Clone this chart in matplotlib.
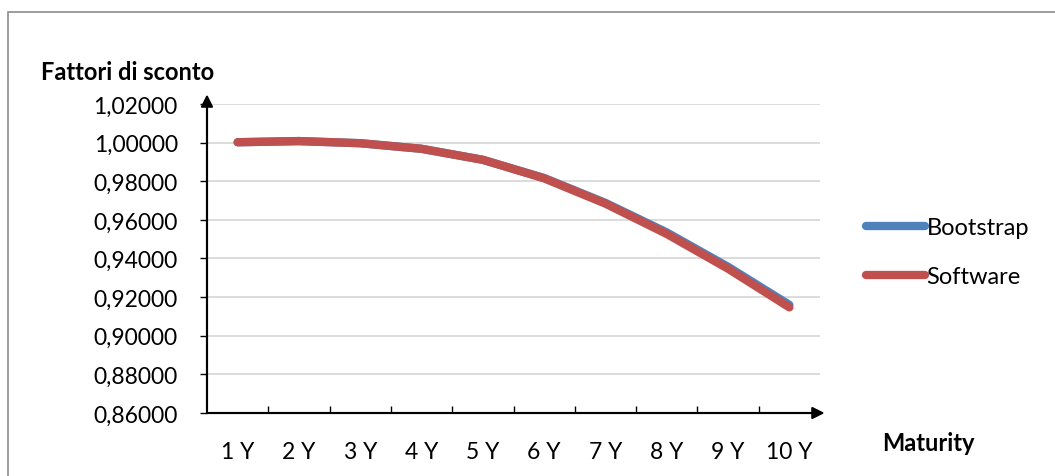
import matplotlib
matplotlib.use("Agg")
import matplotlib.pyplot as plt
from matplotlib.patches import Rectangle
import numpy as np

categories = ["1 Y", "2 Y", "3 Y", "4 Y", "5 Y", "6 Y", "7 Y", "8 Y", "9 Y", "10 Y"]
bootstrap = [1.0002, 1.0008, 0.9997, 0.9968, 0.9911, 0.9817, 0.9688, 0.9535, 0.9357, 0.9160]
software = [1.0002, 1.0008, 0.9997, 0.9968, 0.9911, 0.9815, 0.9684, 0.9527, 0.9347, 0.9147]
y_ticks = [0.86, 0.88, 0.90, 0.92, 0.94, 0.96, 0.98, 1.00, 1.02]

plt.rcParams['font.family'] = ['Lato', 'DejaVu Sans']

W, H = 1055, 477
fig = plt.figure(figsize=(W / 100, H / 100), dpi=100)
fig.patch.set_facecolor('white')

# outer frame
fig.add_artist(Rectangle((8 / W, -0.1), 1.2, 1 - 13 / H + 0.1, transform=fig.transFigure,
                         fill=False, edgecolor='#8c8c8c', linewidth=1.2))

left, right, top, bottom = 207, 820, 105, 414
ax = fig.add_axes([left / W, 1 - bottom / H, (right - left) / W, (bottom - top) / H])

x = np.arange(len(categories))
ax.plot(x, bootstrap, color='#4f81bd', linewidth=6, solid_capstyle='round', label='Bootstrap', zorder=3)
ax.plot(x, software, color='#c0504d', linewidth=6, solid_capstyle='round', label='Software', zorder=4)

ax.set_xlim(-0.5, len(categories) - 0.5)
ax.set_ylim(0.86, 1.02)
ax.set_yticks(y_ticks)
ax.set_yticklabels([f"{v:.5f}".replace('.', ',') for v in y_ticks], fontsize=16.5)
ax.set_xticks(x)
ax.set_xticklabels(categories, fontsize=16.5)
ax.tick_params(axis='x', length=0, pad=20)
ax.set_xticks(np.arange(0.5, len(categories) - 0.5, 1), minor=True)
ax.tick_params(axis='x', which='minor', direction='in', length=5, width=1, color='black')
ax.tick_params(axis='y', direction='out', length=5, width=1, pad=16)

ax.grid(axis='y', color='#d9d9d9', linewidth=1.3)
ax.set_axisbelow(True)
for s in ['top', 'right']:
    ax.spines[s].set_visible(False)
for s in ['left', 'bottom']:
    ax.spines[s].set_linewidth(1.5)
    ax.spines[s].set_color('black')

# arrows
ax.annotate('', xy=(0, 1.04), xytext=(0, 0.0), xycoords='axes fraction',
            arrowprops=dict(arrowstyle='-|>', color='black', lw=1.5, mutation_scale=18))
ax.annotate('', xy=(1.012, 0), xytext=(0, 0), xycoords='axes fraction',
            arrowprops=dict(arrowstyle='-|>', color='black', lw=1.5, mutation_scale=18))

fig.text(41 / W, 1 - 73 / H, "Fattori di sconto", fontsize=17, fontweight='bold', va='center', ha='left')
fig.text(882 / W, 1 - 444 / H, "Maturity", fontsize=17, fontweight='bold', va='center', ha='left')

leg = ax.legend(loc='center left', bbox_to_anchor=(845 / W, 1 - 253 / H), bbox_transform=fig.transFigure,
                frameon=False, fontsize=17, handlelength=2.5, handletextpad=0.05, labelspacing=1.2)

fig.savefig('out.png', dpi=100)
